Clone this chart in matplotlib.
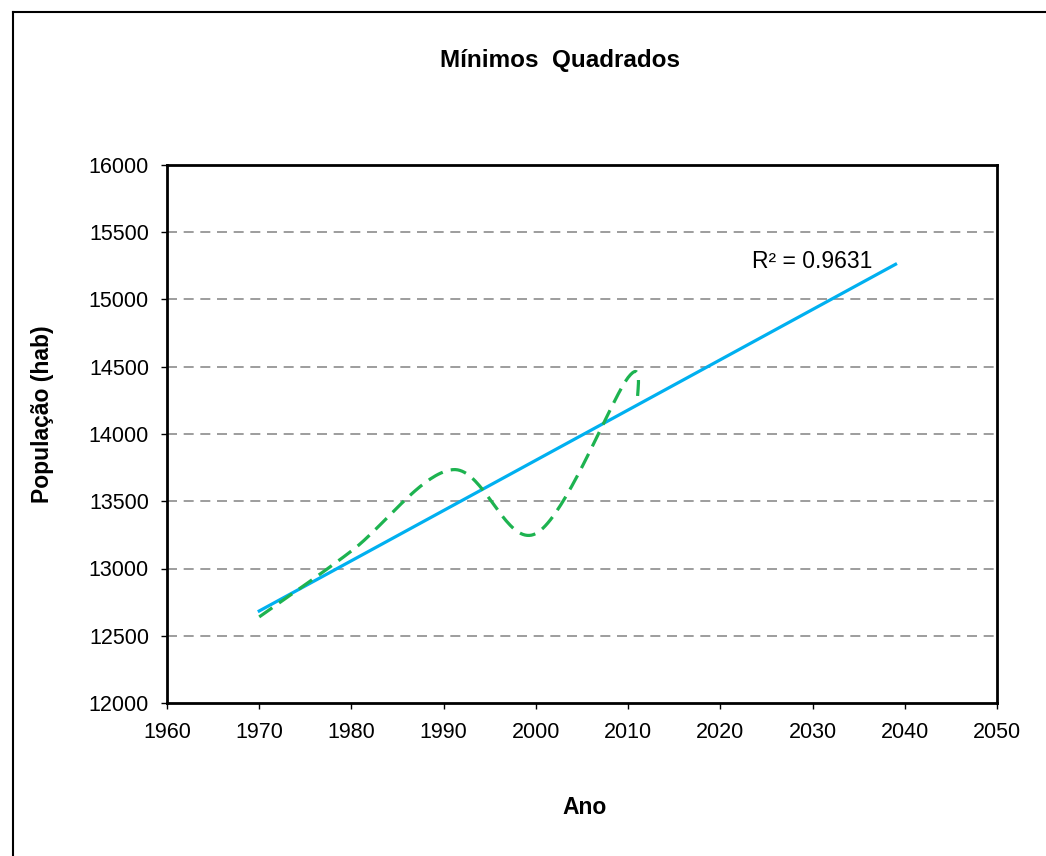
import numpy as np
import matplotlib.pyplot as plt
from matplotlib.lines import Line2D

plt.rcParams['font.family'] = ['Liberation Sans', 'DejaVu Sans']

# census data
anos = [1970, 1980, 1991, 2000, 2010, 2011]
populacao = [12640, 13130, 13735, 13260, 14420, 14225]
ano_final = 2039
r2_texto = "R² = 0.9631"


def smooth_curve(xs, ys, n=40):
    """Bezier smoothing through the points (like a spreadsheet smoothed line)."""
    p = np.column_stack([xs, ys]).astype(float)
    p = np.vstack([p[0], p, p[-1]])
    out = []
    for i in range(1, len(p) - 2):
        p0, p1, p2, p3 = p[i - 1], p[i], p[i + 1], p[i + 2]
        c1 = p1 + (p2 - p0) / 6
        c2 = p2 - (p3 - p1) / 6
        t = np.linspace(0, 1, n)[:, None]
        seg = ((1 - t) ** 3) * p1 + 3 * ((1 - t) ** 2) * t * c1 \
            + 3 * (1 - t) * t ** 2 * c2 + t ** 3 * p2
        out.append(seg)
    out = np.vstack(out)
    return out[:, 0], out[:, 1]


fig = plt.figure(figsize=(10.46, 8.56), dpi=100)
ax = fig.add_axes([167 / 1046, 1 - 703 / 856, 830 / 1046, 538 / 856])

# least squares trend, extended forward
coef = np.polyfit(anos, populacao, 1)
xt = np.array([anos[0], ano_final])
ax.plot(xt, np.polyval(coef, xt), color='#00B0F0', lw=2.3, zorder=3)

sx, sy = smooth_curve(anos, populacao)
ax.plot(sx, sy, color='#1DB350', lw=2.3, ls=(0, (5, 2.6)), zorder=4)

ax.text(2023.4, 15285, r2_texto, fontsize=16.5, ha='left', va='center')

ax.set_xlim(1960, 2050)
ax.set_ylim(12000, 16000)
ax.set_xticks(range(1960, 2051, 10))
ax.set_yticks(range(12000, 16001, 500))
for y in range(12500, 16000, 500):
    ax.axhline(y, color='#8c8c8c', lw=1.2, ls=(0, (6, 4)), zorder=1)

for s in ax.spines.values():
    s.set_linewidth(2)
ax.tick_params(direction='out', length=4, width=1, labelsize=15.5)
ax.tick_params(axis='x', pad=10)
ax.tick_params(axis='y', pad=9)

fig.text(560 / 1046, 1 - 60 / 856, "Mínimos  Quadrados", fontsize=17.5,
         fontweight='bold', ha='center', va='center')
fig.text(585 / 1046, 1 - 808 / 856, "Ano", fontsize=16.5, fontweight='bold',
         ha='center', va='center')
fig.text(43 / 1046, 1 - 414 / 856, "População (hab)", fontsize=16.5,
         fontweight='bold', ha='center', va='center', rotation=90)

# chart area frame
fig.add_artist(Line2D([13 / 1046, 13 / 1046], [0, 1 - 12 / 856], color='black', lw=1.5))
fig.add_artist(Line2D([13 / 1046, 1], [1 - 12 / 856, 1 - 12 / 856], color='black', lw=1.5))

fig.savefig('out.png', dpi=100)
